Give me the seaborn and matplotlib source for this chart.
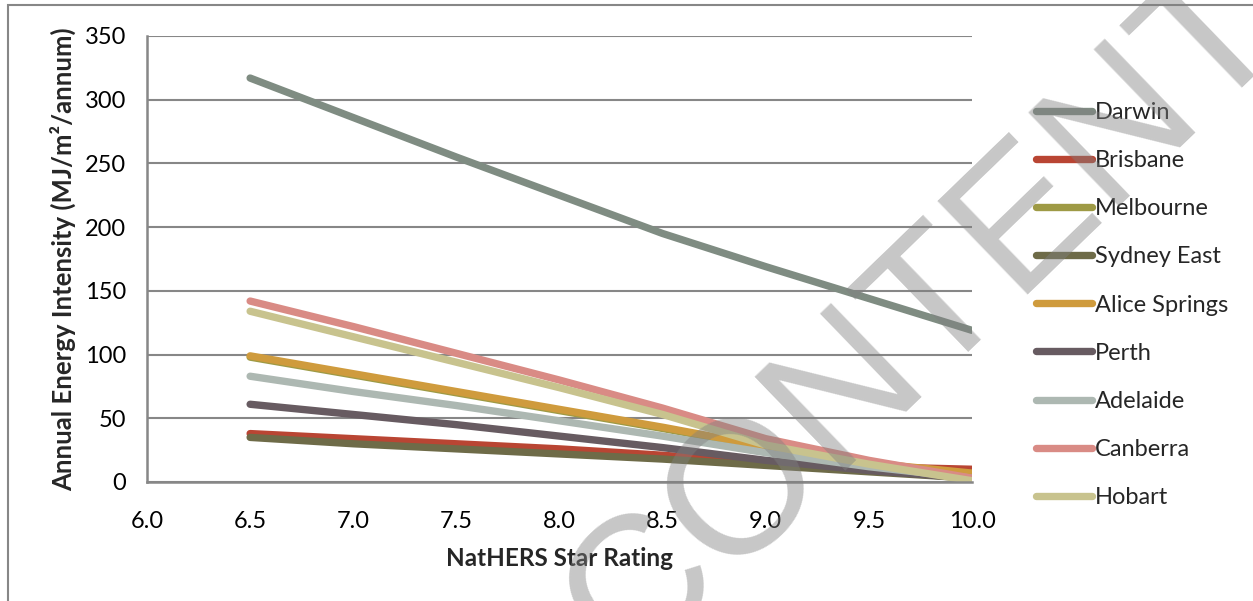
import numpy as np
import pandas as pd
import matplotlib
matplotlib.use("Agg")
import matplotlib.pyplot as plt
import matplotlib.patches as mpatches
import seaborn as sns

# ---------------- Data ----------------
ratings = [6.5, 7.0, 7.5, 8.0, 8.5, 9.0, 9.5, 10.0]

cities = ["Darwin", "Brisbane", "Melbourne", "Sydney East", "Alice Springs",
          "Perth", "Adelaide", "Canberra", "Hobart"]

darwin = [317, 286, 255, 225, 195, 169, 144, 119]
brisbane = [38, 34, 30, 26, 21, 15, 12, 10]
melbourne = [98, 84, 70, 56, 42, 27, 14, 6]
sydney_east = [35, 30, 26, 22, 18, 13, 8, 3]
alice_springs = [99, 85, 71, 57, 43, 28, 15, 7]
perth = [61, 53, 45, 36, 27, 17, 9, 3]
adelaide = [83, 71, 60, 48, 36, 23, 12, 3]
canberra = [142, 122, 101, 80, 58, 34, 17, 3]
hobart = [134, 114, 94, 74, 53, 29, 14, 1]

colours = ["#7f8c82", "#b94533", "#9e9a45", "#6e6b48", "#cf9b3d",
           "#675b61", "#adb8b2", "#d98b85", "#c8c38e"]

series = [darwin, brisbane, melbourne, sydney_east, alice_springs,
          perth, adelaide, canberra, hobart]

df = pd.DataFrame({
    "Rating": np.tile(ratings, len(cities)),
    "Intensity": np.concatenate(series),
    "City": np.repeat(cities, len(ratings)),
})

# ---------------- Style ----------------
sns.set_theme(style="white")
plt.rcParams["font.family"] = ["Lato", "DejaVu Sans"]
grey = "#878787"
lw = 5.3

fig = plt.figure(figsize=(12.53, 6.01), dpi=100)
ax = fig.add_axes([147 / 1253, 1 - 482 / 601, (972 - 147) / 1253, (482 - 36) / 601])

sns.lineplot(
    data=df,
    x="Rating",
    y="Intensity",
    hue="City",
    hue_order=cities,
    palette=dict(zip(cities, colours)),
    linewidth=lw,
    solid_capstyle="round",
    ax=ax,
    legend=True,
)

ax.set_xlim(6.0, 10.0)
ax.set_ylim(0, 350)
ax.set_xticks(np.arange(6.0, 10.01, 0.5))
ax.set_xticklabels([f"{v:.1f}" for v in np.arange(6.0, 10.01, 0.5)])
ax.set_yticks(np.arange(0, 351, 50))

ax.grid(axis="y", color=grey, linewidth=1.5)
ax.grid(axis="x", visible=False)
ax.set_axisbelow(True)

for side in ["top", "right"]:
    ax.spines[side].set_visible(False)
for side in ["left", "bottom"]:
    ax.spines[side].set_color(grey)
    ax.spines[side].set_linewidth(1.8)

ax.tick_params(axis="both", colors=grey, labelcolor="black", labelsize=17,
               length=6, width=1.8, direction="out")
ax.tick_params(axis="x", pad=15)
ax.tick_params(axis="y", pad=9)

ax.set_xlabel("NatHERS Star Rating", fontsize=17.5, fontweight="bold", labelpad=11)
ax.set_ylabel("Annual Energy Intensity (MJ/m²/annum)", fontsize=18.5,
              fontweight="bold", labelpad=6)

handles, labels = ax.get_legend_handles_labels()
ax.legend(
    handles, labels,
    loc="center left",
    bbox_to_anchor=(1036 / 1253, 1 - 305 / 601),
    bbox_transform=fig.transFigure,
    frameon=False,
    fontsize=17,
    handlelength=2.37,
    handletextpad=0.12,
    labelspacing=1.15,
    borderpad=0,
    borderaxespad=0,
)
for line in ax.get_legend().get_lines():
    line.set_linewidth(lw)
    line.set_solid_capstyle("round")

# chart border (cropped at right / bottom)
fig.add_artist(mpatches.Rectangle(
    (8 / 1253, -0.05), 1.1, 1.05 - 5 / 601,
    transform=fig.transFigure, fill=False, edgecolor=grey, linewidth=1.5))

# watermark
fig.text(958 / 1253, 1 - 353 / 601, "CONTENT", fontsize=137,
         family="Liberation Sans", color="#808080", alpha=0.44,
         rotation=44, ha="center", va="baseline", rotation_mode="anchor", zorder=10)

fig.savefig("out.png", dpi=100)
